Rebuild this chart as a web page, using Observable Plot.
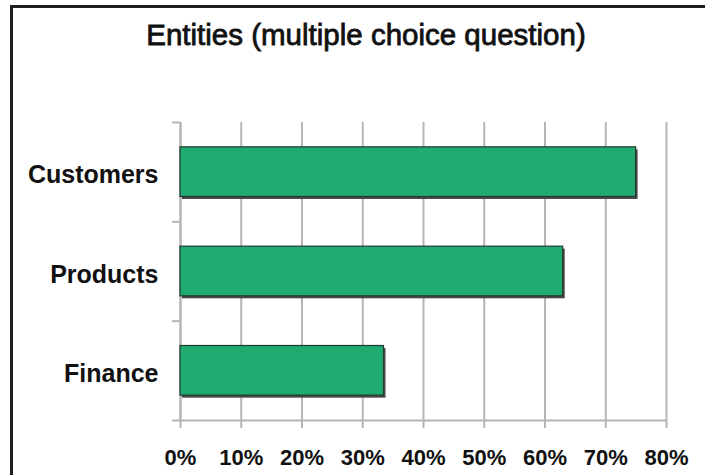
<!DOCTYPE html>
<html>
<head>
<meta charset="utf-8">
<script src="https://cdn.jsdelivr.net/npm/d3@7"></script>
<script src="https://cdn.jsdelivr.net/npm/@observablehq/plot@0.6"></script>
<style>
  html, body { margin: 0; padding: 0; background: #fff; }
  #wrap { position: relative; width: 705px; height: 475px; overflow: hidden; background: #fff; font-family: "Liberation Sans", Arial, sans-serif; }
  #frame { position: absolute; left: 10px; top: 5px; width: 720px; height: 500px; border-left: 3px solid #1e1e1e; border-top: 3px solid #1e1e1e; }
  #title { position: absolute; top: 20px; left: 366px; transform: translateX(-50%); white-space: nowrap; font-size: 29.5px; line-height: 1; color: #111; -webkit-text-stroke: 0.8px #111; }
  #chart { position: absolute; left: 0; top: 0; }
</style>
</head>
<body>
<div id="wrap">
  <div id="frame"></div>
  <div id="chart"></div>
  <div id="title">Entities (multiple choice question)</div>
</div>
<script>
const title = "Entities (multiple choice question)";
const categories = ["Customers", "Products", "Finance"];
const values = [75, 63, 33.5];
const xTicks = [0, 10, 20, 30, 40, 50, 60, 70, 80];

const data = categories.map((c, i) => ({ category: c, value: values[i], pos: i }));
const boundaries = d3.range(categories.length + 1);
const centers = categories.map((c, i) => i + 0.5);

const plot = Plot.plot({
  width: 705,
  height: 475,
  marginLeft: 180,
  marginRight: 39,
  marginTop: 122,
  marginBottom: 55,
  style: { fontFamily: "Liberation Sans, Arial, sans-serif", background: "transparent", overflow: "visible" },
  x: { domain: [0, 80] },
  y: { domain: [0, categories.length], reverse: true },
  marks: [
    Plot.gridX(xTicks, { stroke: "#b5b5b5", strokeOpacity: 1, strokeWidth: 2 }),
    Plot.ruleY([categories.length], { stroke: "#b5b5b5", strokeWidth: 2 }),
    Plot.ruleX([0], { stroke: "#b5b5b5", strokeWidth: 2 }),
    Plot.axisX({ ticks: xTicks, tickSize: 8, tickPadding: 21, tickFormat: d => d + "%", stroke: "#b5b5b5", strokeWidth: 2, fontSize: 22, fontWeight: "bold", fill: "#111", label: null }),
    Plot.axisY({ ticks: boundaries, tickSize: 8, tickFormat: () => "", stroke: "#b5b5b5", strokeWidth: 2, label: null }),
    Plot.axisY({ ticks: centers, tickSize: 0, tickPadding: 22, dy: 3, tickFormat: d => categories[Math.floor(d)], fontSize: 25, fontWeight: "bold", fill: "#111", label: null }),
    Plot.rectX(data, { x1: 0, x2: "value", y1: d => d.pos + 0.25, y2: d => d.pos + 0.75, fill: "#4a4a4a", dx: 2, dy: 2.5 }),
    Plot.rectX(data, { x1: 0, x2: "value", y1: d => d.pos + 0.25, y2: d => d.pos + 0.75, fill: "#20ab73", stroke: "#23382e", strokeWidth: 1.2 })
  ]
});
document.getElementById("chart").appendChild(plot);
</script>
</body>
</html>
